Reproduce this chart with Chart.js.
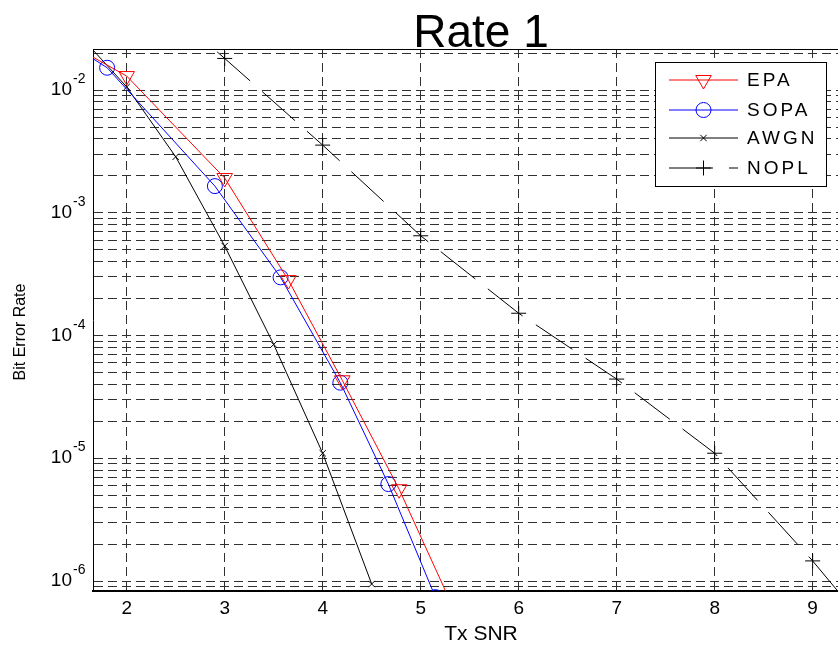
<!DOCTYPE html>
<html>
<head>
<meta charset="utf-8">
<script src="https://cdn.jsdelivr.net/npm/chart.js@4.4.1/dist/chart.umd.min.js"></script>
<style>
  html, body { margin: 0; padding: 0; background: #fff; overflow: hidden; }
  #wrap { width: 962px; height: 647px; }
</style>
</head>
<body>
<div id="wrap"><canvas id="berChart" width="962" height="647"></canvas></div>
<script>
// values (Tx SNR vs bit error rate)
const epaSnr  = [1.0, 2.0, 3.0, 3.65, 4.2, 4.78, 5.3];
const epaBer  = [0.0365, 0.0130, 1.92e-3, 2.83e-4, 4.32e-5, 5.6e-6, 6.9e-7];
const sopaSnr = [1.0, 1.8, 2.9, 3.57, 4.18, 4.67, 5.15];
const sopaBer = [0.039, 0.0152, 1.65e-3, 2.98e-4, 4.13e-5, 6.17e-6, 7.4e-7];
const awgnSnr = [1.5, 2, 2.5, 3, 3.5, 4, 4.5];
const awgnBer = [0.029, 0.0106, 2.86e-3, 5.36e-4, 8.47e-5, 1.10e-5, 9.46e-7];
const noplSnr = [2, 3, 4, 5, 6, 7, 8, 9, 10];
const noplBer = [0.09, 0.0181, 3.56e-3, 6.5e-4, 1.52e-4, 4.42e-5, 1.10e-5, 1.46e-6, 1.6e-7];

const xTicks = [2, 3, 4, 5, 6, 7, 8, 9];
const yDecades = [-7, -6, -5, -4, -3, -2, -1];
const yLabelDecades = [-6, -5, -4, -3, -2];
const yMinorSteps = [1, 2, 3, 4, 5, 6, 7, 8, 9];

const xMin = 1.656, xMax = 9.575;
const yMin = 8.3e-7, yMax = 0.0216;

const FONT = "'Liberation Sans', Arial, Helvetica, sans-serif";

const pts = (xs, ys) => xs.map((x, i) => ({x: x, y: ys[i]}));

const yGrid = [];
yDecades.forEach(e => yMinorSteps.forEach(m => {
    const v = m * Math.pow(10, e);
    if (v >= yMin && v <= yMax) yGrid.push(v);
}));

const series = [
    {label: 'EPA',  color: '#ff0000', style: 'triangle', rot: 180, r: 9,   dash: [],       data: pts(epaSnr, epaBer)},
    {label: 'SOPA', color: '#0000ff', style: 'circle',   rot: 0,   r: 7.5, dash: [],       data: pts(sopaSnr, sopaBer)},
    {label: 'AWGN', color: '#000000', style: 'crossRot', rot: 0,   r: 4.5, dash: [],       data: pts(awgnSnr, awgnBer)},
    {label: 'NOPL', color: '#000000', style: 'cross',    rot: 0,   r: 7.5, dash: [44, 16], data: pts(noplSnr, noplBer)}
];

const decorPlugin = {
    id: 'decor',
    afterDraw(chart) {
        const {ctx, chartArea: a, scales} = chart;
        ctx.save();
        // top frame line
        ctx.strokeStyle = '#000';
        ctx.lineWidth = 1;
        ctx.beginPath();
        ctx.moveTo(a.left, a.top + 0.5);
        ctx.lineTo(a.right, a.top + 0.5);
        ctx.stroke();

        // title
        ctx.fillStyle = '#000';
        ctx.font = '46px ' + FONT;
        ctx.textAlign = 'center';
        ctx.textBaseline = 'alphabetic';
        ctx.fillText('Rate 1', (a.left + a.right) / 2, 47);

        // y axis title
        ctx.save();
        ctx.translate(25, 332);
        ctx.rotate(-Math.PI / 2);
        ctx.font = '16px ' + FONT;
        ctx.textAlign = 'center';
        ctx.fillText('Bit Error Rate', 0, 0);
        ctx.restore();

        // y labels 10^n
        yLabelDecades.forEach(e => {
            const y = scales.y.getPixelForValue(Math.pow(10, e));
            ctx.font = '19px ' + FONT;
            ctx.textAlign = 'right';
            ctx.fillText('10', a.left - 21, y + 5);
            ctx.font = '14px ' + FONT;
            ctx.textAlign = 'left';
            ctx.fillText('-' + Math.abs(e), a.left - 20, y - 7);
        });

        // legend
        const bx = 655, by = 62, bw = 171, bh = 124;
        ctx.fillStyle = '#fff';
        ctx.fillRect(bx, by, bw, bh);
        ctx.strokeStyle = '#000';
        ctx.lineWidth = 1;
        ctx.strokeRect(bx + 0.5, by + 0.5, bw, bh);
        const rows = [80, 110, 138, 168];
        series.forEach((s, i) => {
            const y = rows[i];
            ctx.save();
            ctx.strokeStyle = s.color;
            ctx.lineWidth = 1;
            ctx.setLineDash(s.dash);
            ctx.beginPath();
            ctx.moveTo(669, y);
            ctx.lineTo(738, y);
            ctx.stroke();
            ctx.setLineDash([]);
            ctx.fillStyle = 'rgba(0,0,0,0)';
            if (Chart.helpers && Chart.helpers.drawPoint) {
                Chart.helpers.drawPoint(ctx, {pointStyle: s.style, rotation: s.rot, radius: s.r, borderWidth: 1}, 703.5, y);
            }
            ctx.restore();
            ctx.fillStyle = '#000';
            ctx.font = '19px ' + FONT;
            ctx.letterSpacing = '3px';
            ctx.textAlign = 'left';
            ctx.textBaseline = 'middle';
            ctx.fillText(s.label, 747, y + 1);
            ctx.letterSpacing = '0px';
            ctx.textBaseline = 'alphabetic';
        });
        ctx.restore();
    }
};

new Chart(document.getElementById('berChart'), {
    type: 'line',
    data: {
        datasets: series.map(s => ({
            label: s.label,
            data: s.data,
            borderColor: s.color,
            backgroundColor: 'rgba(0,0,0,0)',
            borderWidth: 1,
            borderDash: s.dash,
            pointStyle: s.style,
            pointRotation: s.rot,
            pointRadius: s.r,
            pointHoverRadius: s.r,
            pointBorderColor: s.color,
            pointBackgroundColor: 'rgba(0,0,0,0)',
            pointBorderWidth: 1,
            fill: false,
            tension: 0
        }))
    },
    options: {
        responsive: false,
        animation: false,
        events: [],
        layout: {padding: {top: 49, left: 0, right: 93, bottom: 0}},
        plugins: {
            legend: {display: false},
            title: {display: false},
            tooltip: {enabled: false}
        },
        scales: {
            x: {
                type: 'linear',
                bounds: 'data',
                min: xMin,
                max: xMax,
                afterBuildTicks: axis => { axis.ticks = xTicks.map(v => ({value: v})); },
                afterFit: axis => { axis.height = 56; },
                ticks: {
                    autoSkip: false,
                    maxRotation: 0,
                    padding: 6,
                    color: '#000',
                    font: {family: FONT, size: 19}
                },
                grid: {color: '#303030', lineWidth: 1, drawTicks: false},
                border: {display: true, color: '#000', width: 2, dash: [9, 5]},
                title: {
                    display: true,
                    text: 'Tx SNR',
                    color: '#000',
                    font: {family: FONT, size: 21},
                    padding: {top: 0, bottom: 0}
                }
            },
            y: {
                type: 'logarithmic',
                bounds: 'data',
                min: yMin,
                max: yMax,
                afterBuildTicks: axis => { axis.ticks = yGrid.map(v => ({value: v})); },
                afterFit: axis => { axis.width = 93; },
                ticks: {display: false, autoSkip: false},
                grid: {color: '#303030', lineWidth: 1, drawTicks: false},
                border: {display: true, color: '#000', width: 1, dash: [9, 5]}
            }
        }
    },
    plugins: [decorPlugin]
});
</script>
</body>
</html>
